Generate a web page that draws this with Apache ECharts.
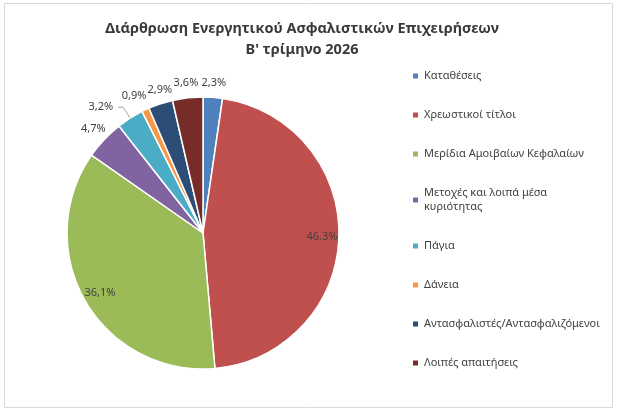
<!DOCTYPE html>
<html>
<head>
<meta charset="utf-8">
<script src="https://cdn.jsdelivr.net/npm/echarts@6/dist/echarts.min.js"></script>
<style>
  html, body { margin: 0; padding: 0; background: #fff; }
  #chart { width: 619px; height: 414px; }
</style>
</head>
<body>
<div id="chart"></div>
<script>
// κατηγορίες και ποσοστά (%)
var categories = ['Καταθέσεις', 'Χρεωστικοί τίτλοι', 'Μερίδια Αμοιβαίων Κεφαλαίων',
  'Μετοχές και λοιπά μέσα κυριότητας', 'Πάγια', 'Δάνεια',
  'Αντασφαλιστές/Αντασφαλιζόμενοι', 'Λοιπές απαιτήσεις'];
var values = [2.3, 46.3, 36.1, 4.7, 3.2, 0.9, 2.9, 3.6];
var colorList = ['#4f81bd', '#c0504d', '#9bbb59', '#8064a2', '#4bacc6', '#f79646', '#2c4d75', '#772c2a'];
// πού μπαίνει η ετικέτα: μέσα, έξω, έξω με γραμμή
var labelPlace = ['out', 'in', 'in', 'out', 'line', 'out', 'out', 'out'];

var font = 'Noto Sans';
var center = [203, 233];

function fmt(v){
	return v.toFixed(1).replace('.', ',') + '%';
}

var mainData = [], innerData = [], outerData = [];
for (var i = 0; i < categories.length; i++) {
	mainData.push({
		name: categories[i],
		value: values[i],
		label: { show: labelPlace[i] === 'line' },
		labelLine: { show: labelPlace[i] === 'line' }
	});
	innerData.push({ name: categories[i], value: values[i], label: { show: labelPlace[i] === 'in' } });
	// λίγο σπρώξιμο για να μη πέφτουν πάνω η μία στην άλλη
	var pad = [0, 0, 0, 0];
	if (i === 5) pad = [0, 10, 0, 0];
	if (i === 6) pad = [0, 0, 0, 8];
	outerData.push({ name: categories[i], value: values[i], label: { show: labelPlace[i] === 'out', padding: pad } });
}

var labelText = {
	color: '#404040',
	fontSize: 11,
	fontFamily: font,
	formatter: function(p){ return fmt(p.value); }
};
var ghost = {
	type: 'pie',
	center: center,
	startAngle: 90,
	clockwise: true,
	silent: true,
	avoidLabelOverlap: false,
	itemStyle: { color: 'rgba(0,0,0,0)', borderWidth: 0 },
	emphasis: { disabled: true },
	labelLine: { show: false }
};

var ele = echarts.init(document.getElementById('chart'));
var option = {
	color: colorList,
	animation: false,
	title: {
		text: 'Διάρθρωση Ενεργητικού Ασφαλιστικών Επιχειρήσεων\nΒ\' τρίμηνο 2026',
		left: 297,
		textAlign: 'center',
		top: 13,
		textStyle: {
			fontFamily: font,
			fontSize: 14.5,
			fontWeight: 'bold',
			color: '#3a3a3a',
			lineHeight: 21
		}
	},
	legend: {
		orient: 'vertical',
		left: 406,
		top: 64,
		icon: 'rect',
		itemWidth: 7,
		itemHeight: 7,
		itemGap: 25,
		data: categories,
		formatter: function(name){
			return name.replace(' κυριότητας', '\nκυριότητας');
		},
		textStyle: {
			fontFamily: font,
			fontSize: 11,
			lineHeight: 14,
			color: '#404040'
		}
	},
	graphic: [{
		type: 'rect',
		shape: { x: 4.5, y: 3.5, width: 608, height: 404 },
		style: { fill: 'none', stroke: '#d9d9d9', lineWidth: 1 },
		silent: true,
		z: -1
	}],
	series: [
		{
			type: 'pie',
			center: center,
			radius: 136,
			startAngle: 90,
			clockwise: true,
			avoidLabelOverlap: false,
			itemStyle: { borderColor: '#fff', borderWidth: 1.5 },
			label: Object.assign({ position: 'outside' }, labelText),
			labelLine: { length: 13, length2: 5, lineStyle: { color: '#a6a6a6', width: 1 } },
			emphasis: { scale: false },
			data: mainData
		},
		Object.assign({}, ghost, {
			radius: [96, 136],
			label: Object.assign({ position: 'inside' }, labelText),
			data: innerData
		}),
		Object.assign({}, ghost, {
			radius: [136, 160],
			label: Object.assign({ position: 'inside' }, labelText),
			data: outerData
		})
	]
};
ele.setOption(option);
</script>
</body>
</html>
